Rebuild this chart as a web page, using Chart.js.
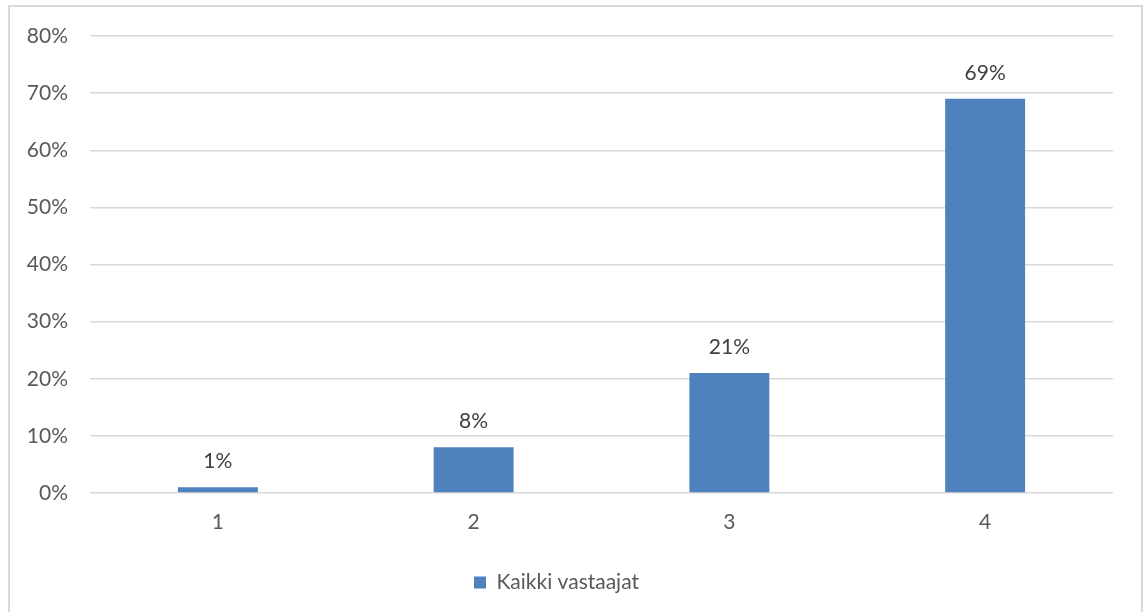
<!DOCTYPE html>
<html>
<head>
<meta charset="utf-8">
<script src="https://cdn.jsdelivr.net/npm/chart.js@4/dist/chart.umd.min.js"></script>
<style>
  html, body { margin: 0; padding: 0; background: #ffffff; }
  #wrap { position: relative; width: 1143px; height: 612px; overflow: hidden; }
  #frame { position: absolute; left: 8px; top: 5px; width: 1131px; height: 640px;
           border: 2px solid #d9d9d9; pointer-events: none; }
  canvas { position: absolute; left: 0; top: 0; }
</style>
</head>
<body>
<div id="wrap">
  <canvas id="chart" width="1143" height="612"></canvas>
  <div id="frame"></div>
</div>
<script>
// Categories (answer scale) and share of respondents per answer, in percent
const categories = ['1', '2', '3', '4'];
const seriesName = 'Kaikki vastaajat';
const shares = [1, 8, 21, 69];
const yTicks = [0, 10, 20, 30, 40, 50, 60, 70, 80];

const FONT = 'Lato, "Open Sans", "Liberation Sans", sans-serif';
const FONT_SIZE = 21;

// Writes the percentage above each bar
const valueLabels = {
  id: 'valueLabels',
  afterDatasetsDraw(chart) {
    const ctx = chart.ctx;
    const meta = chart.getDatasetMeta(0);
    const data = chart.data.datasets[0].data;
    ctx.save();
    ctx.font = FONT_SIZE + 'px ' + FONT;
    ctx.fillStyle = '#404040';
    ctx.textAlign = 'center';
    ctx.textBaseline = 'alphabetic';
    meta.data.forEach((bar, i) => {
      ctx.fillText(Math.round(data[i]) + '%', bar.x, bar.y - 19);
    });
    ctx.restore();
  }
};

new Chart(document.getElementById('chart'), {
  type: 'bar',
  data: {
    labels: categories,
    datasets: [{
      label: seriesName,
      data: shares,
      backgroundColor: '#4f81bd',
      borderWidth: 0,
      barPercentage: 0.3125,
      categoryPercentage: 1
    }]
  },
  options: {
    responsive: false,
    animation: false,
    layout: { padding: { left: 0, right: 30, top: 36, bottom: 9 } },
    plugins: {
      tooltip: { enabled: false },
      legend: {
        position: 'bottom',
        labels: {
          font: { family: FONT, size: FONT_SIZE },
          color: '#595959',
          boxWidth: 12,
          boxHeight: 12,
          padding: 10
        }
      }
    },
    scales: {
      x: {
        grid: { display: false, drawTicks: false },
        border: { display: false },
        ticks: { color: '#595959', font: { family: FONT, size: FONT_SIZE }, padding: 17 },
        afterFit(scale) { scale.height = 69; }
      },
      y: {
        min: 0,
        max: 80,
        afterBuildTicks(scale) { scale.ticks = yTicks.map(v => ({ value: v })); },
        grid: { color: '#d9d9d9', lineWidth: 1.5, drawTicks: false },
        border: { display: false },
        ticks: {
          color: '#595959',
          font: { family: FONT, size: FONT_SIZE },
          padding: 22,
          callback: v => v + '%'
        },
        afterFit(scale) { scale.width = 90; }
      }
    }
  },
  plugins: [valueLabels]
});
</script>
</body>
</html>
